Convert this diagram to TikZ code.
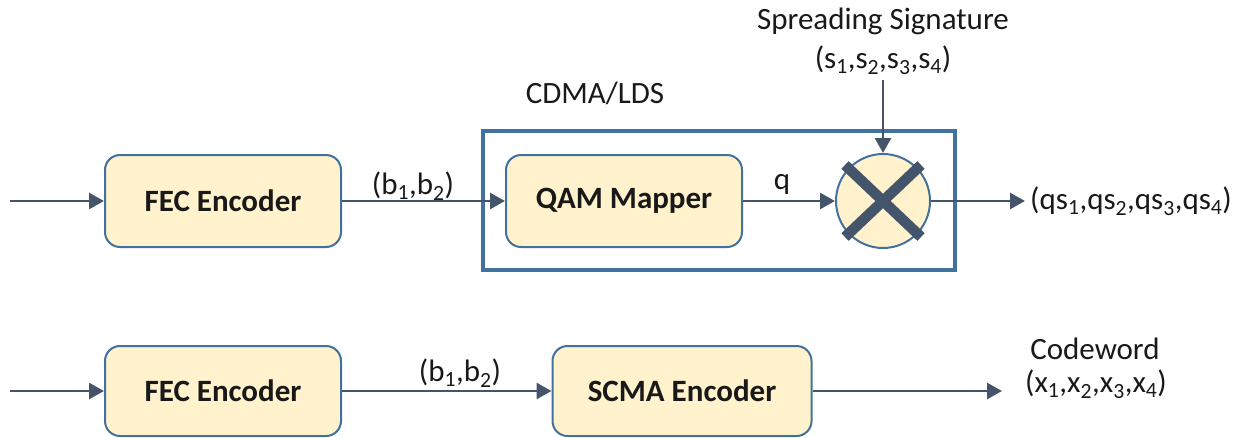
\documentclass[tikz,border=0pt]{standalone}
\usepackage{fontspec}
\setmainfont{Carlito}
\usetikzlibrary{arrows.meta}
\definecolor{boxfill}{HTML}{FFF2CC}
\definecolor{boxedge}{HTML}{41719C}
\definecolor{wire}{HTML}{44546A}
\tikzset{
  block/.style={draw=boxedge, line width=2pt, fill=boxfill, rounded corners=15pt,
    minimum height=92pt, inner sep=0pt, font=\fontsize{31}{35}\selectfont\bfseries, text=black!90},
  wirearrow/.style={draw=wire, line width=2.8pt, -{Triangle[length=15pt,width=16pt]}},
  lbl/.style={font=\fontsize{31}{35}\selectfont, inner sep=0pt, text=black!90},
}
\begin{document}
\begin{tikzpicture}[x=1pt,y=-1pt]
\useasboundingbox (0,0) rectangle (1239,437);

% ---- CDMA/LDS transmitter ----
\coordinate (in1) at (10,201);
\node[block, minimum width=236pt] (fec1) at (223,201) {FEC Encoder};
\node[block, minimum width=236pt] (qam) at (624,201) {QAM Mapper};
\draw[draw=boxedge, line width=3.5pt] (483,131) rectangle (955,270);
\node[lbl] (cdma) at (595,93) {CDMA/LDS};
\node[circle, draw=boxedge, line width=2pt, fill=boxfill, minimum size=94pt, inner sep=0pt] (mult) at (883,201) {};
\draw[wire, line width=10.5pt] (mult.center) ++(-38,-36) -- ++(76,72);
\draw[wire, line width=10.5pt] (mult.center) ++(38,-36) -- ++(-76,72);
\node[lbl] (spread) at (883,21) {Spreading Signature};
\node[lbl] (svec) at (883,60) {(s\textsubscript{1},s\textsubscript{2},s\textsubscript{3},s\textsubscript{4})};
\coordinate (stop) at (883,80);
\coordinate (out1) at (1025,201);
\node[lbl, anchor=west] (qs) at (1030,201) {(qs\textsubscript{1},qs\textsubscript{2},qs\textsubscript{3},qs\textsubscript{4})};

\draw[wirearrow] (in1) -- (fec1.west);
\draw[wirearrow] (fec1.east) -- (qam.west);
\draw[wirearrow] (qam.east) -- (mult.west);
\draw[wirearrow] (stop) -- (mult.north);
\draw[wirearrow] (mult.east) -- (out1);
\node[lbl] (b1) at (413,186) {(b\textsubscript{1},b\textsubscript{2})};
\node[lbl] (q) at (782,184) {q};

% ---- SCMA transmitter ----
\coordinate (in2) at (10,391);
\node[block, minimum width=236pt, minimum height=90pt] (fec2) at (223,391) {FEC Encoder};
\node[block, minimum width=259pt, minimum height=90pt] (scma) at (682,391) {SCMA Encoder};
\coordinate (out2) at (1002,391);
\draw[wirearrow] (in2) -- (fec2.west);
\draw[wirearrow] (fec2.east) -- (scma.west);
\draw[wirearrow] (scma.east) -- (out2);
\node[lbl] (b2) at (460,373) {(b\textsubscript{1},b\textsubscript{2})};
\node[lbl] (cw) at (1095,349) {Codeword};
\node[lbl] (xvec) at (1096,384) {(x\textsubscript{1},x\textsubscript{2},x\textsubscript{3},x\textsubscript{4})};
\end{tikzpicture}
\end{document}
